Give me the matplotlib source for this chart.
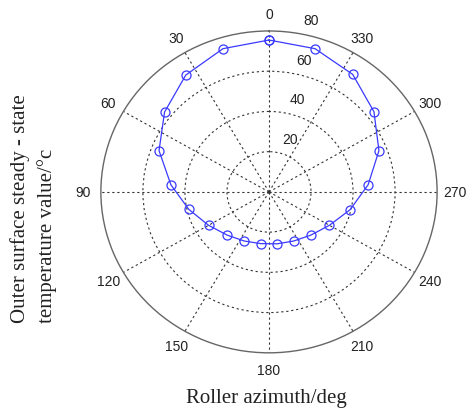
import numpy as np
import matplotlib
matplotlib.use('Agg')
import matplotlib.pyplot as plt

# roller azimuth (deg) and outer surface temperature
azimuth = [0, 17.1, 34.3, 51.4, 68.6, 85.7, 102.9, 120.0, 137.1, 154.3, 171.4,
           188.6, 205.7, 222.9, 240.0, 257.1, 274.3, 291.4, 308.6, 325.7, 342.9]
temp = [75.5, 74.5, 70.3, 63.6, 56.2, 46.8, 39.1, 33.2, 29.3, 27.1, 26.0,
        26.1, 27.1, 29.3, 33.2, 39.6, 47.3, 56.2, 63.9, 70.7, 74.5]
theta_ticks = [0, 30, 60, 90, 120, 150, 180, 210, 240, 270, 300, 330]
r_ticks = [20, 40, 60, 80]

fig = plt.figure(figsize=(4.67, 4.10), dpi=100)
ax = fig.add_axes([0.216, 0.137, 0.72, 0.785], projection='polar')
ax.set_aspect('auto')
ax.set_theta_zero_location('N')
ax.set_theta_direction(1)

th = np.deg2rad(azimuth + azimuth[:1])
rr = temp + temp[:1]
ax.plot(th, rr, color='#3a3aff', lw=0.9, marker='o', ms=6.5,
        mfc='none', mec='#3a3aff', mew=0.9, zorder=3)

ax.set_ylim(0, 80)
ax.set_xticks(np.deg2rad(theta_ticks))
ax.set_xticklabels([str(t) for t in theta_ticks], fontsize=10,
                   family='Liberation Sans', color='#222222')
ax.tick_params(axis='x', pad=2)
ax.set_yticks([20, 40, 60])
ax.set_yticklabels([])
ax.grid(True, color='#333333', lw=0.8, ls=(0, (2, 2.5)))
ax.spines['polar'].set_color('#666666')
ax.spines['polar'].set_linewidth(1.0)

for r in r_ticks:
    ax.annotate(str(r), xy=(np.deg2rad(-10), r), xytext=(4, 9.5),
                textcoords='offset points', ha='left', va='center',
                fontsize=10, family='Liberation Sans', color='#222222')

fig.text(0.57, 0.027, 'Roller azimuth/deg', ha='center', va='center',
         fontsize=15, family='Liberation Serif', color='#222222')
fig.text(0.072, 0.212, 'Outer surface steady - state\ntemperature value/\u00b0c',
         rotation=90, ha='center', va='bottom', multialignment='left',
         linespacing=1.45, fontsize=15, family='Liberation Serif', color='#222222')

fig.savefig('out.png', dpi=100)
